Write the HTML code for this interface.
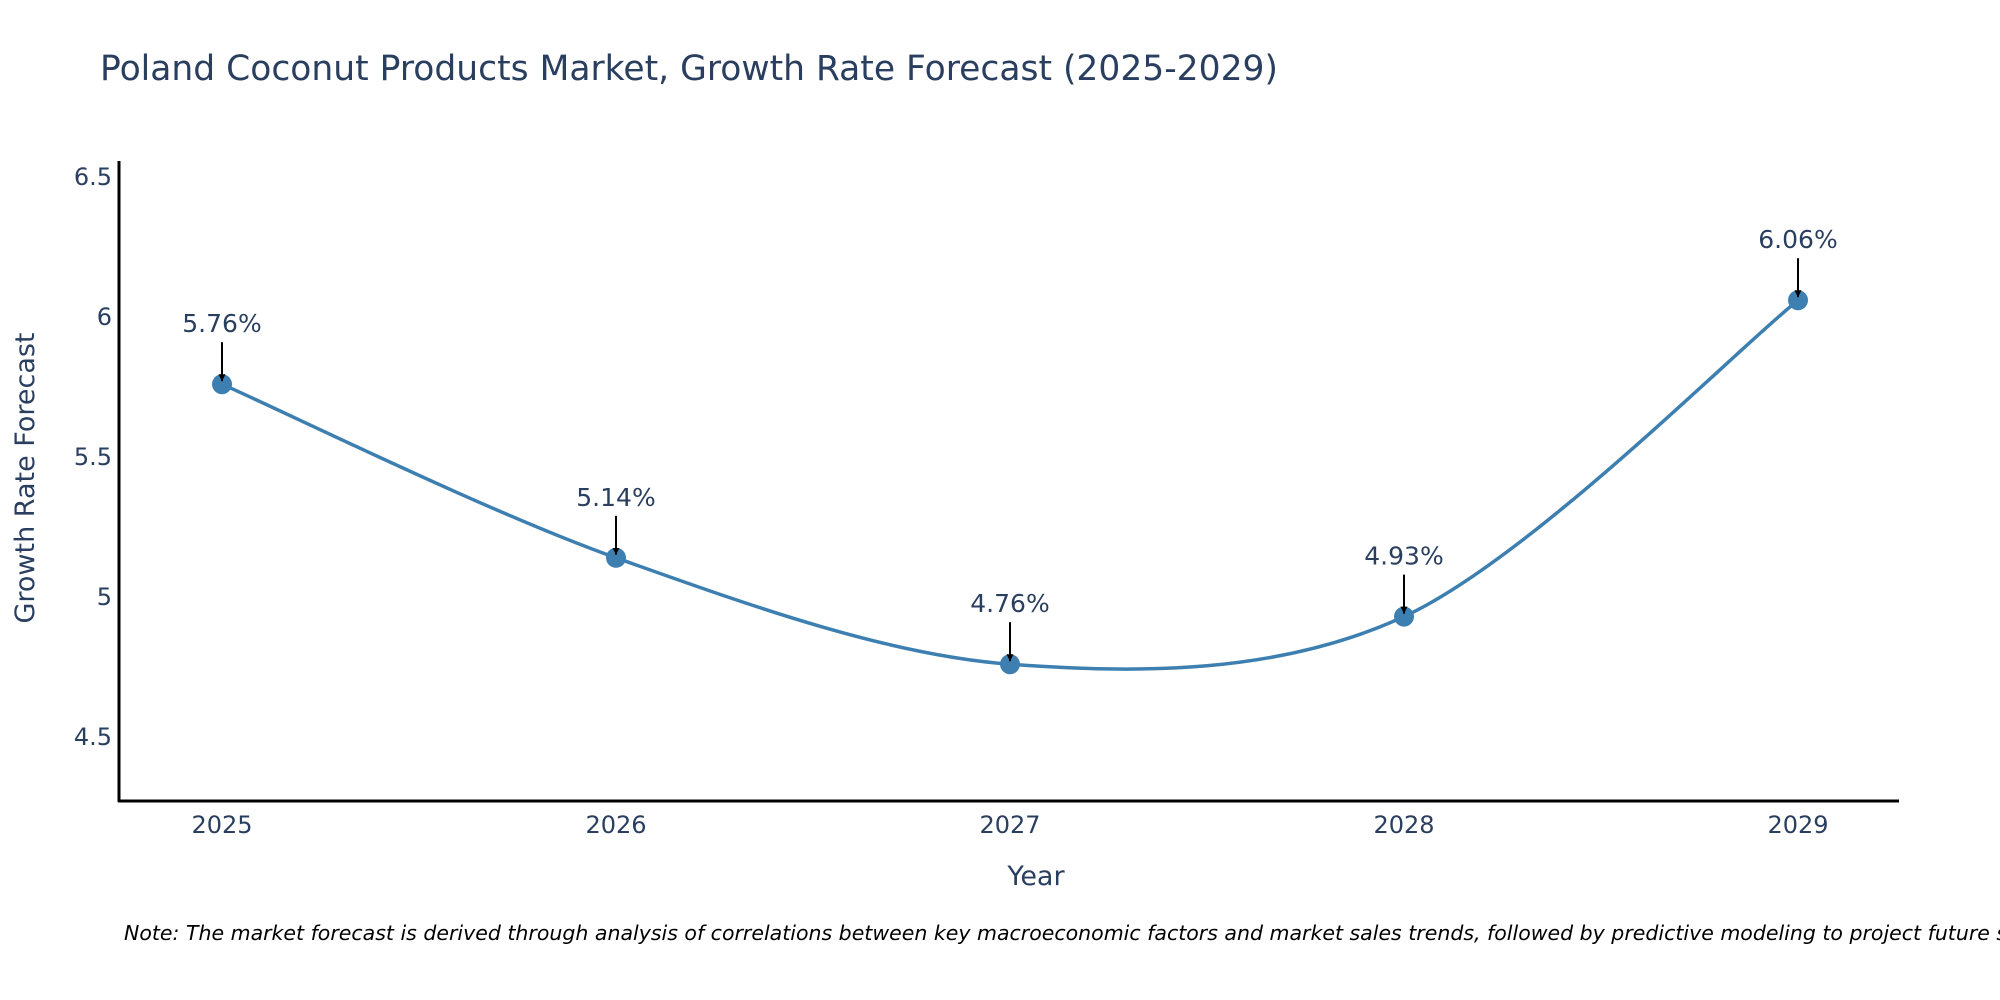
<!DOCTYPE html>
<html><head><meta charset="utf-8"><style>
body{margin:0;background:#fff;}
svg{display:block;font-family:"DejaVu Sans","Liberation Sans",sans-serif;}
</style></head><body>
<svg id="chart" width="2000" height="1000" viewBox="0 0 2000 1000">
<defs><marker id="ah" viewBox="0 0 10 10" refX="10" refY="5" markerWidth="7" markerHeight="7" markerUnits="userSpaceOnUse" orient="auto"><path d="M0,0 L10,5 L0,10 z" fill="#000"/></marker></defs>
<text x="100" y="80" font-size="34.5" fill="#2a3f5f">Poland Coconut Products Market, Growth Rate Forecast (2025-2029)</text>
<g id="yticks"></g>
<g id="xticks"></g>
<line x1="119" y1="161" x2="119" y2="802" stroke="#000" stroke-width="3"/>
<line x1="118" y1="801" x2="1899" y2="801" stroke="#000" stroke-width="3"/>
<path id="line" fill="none" stroke="#3d7fb0" stroke-width="3.5"/>
<g id="pts"></g>
<g id="ann"></g>
<text transform="translate(34,478) rotate(-90)" text-anchor="middle" font-size="27" fill="#2a3f5f">Growth Rate Forecast</text>
<text x="1036" y="885" text-anchor="middle" font-size="27" fill="#2a3f5f">Year</text>
<text x="124" y="940" font-size="20.5" font-style="italic" fill="#000">Note: The market forecast is derived through analysis of correlations between key macroeconomic factors and market sales trends, followed by predictive modeling to project future sales.</text>
</svg>
<script>
const years=[2025,2026,2027,2028,2029];
const values=[5.76,5.14,4.76,4.93,6.06];
const labels=["5.76%","5.14%","4.76%","4.93%","6.06%"];
const yTicks=[4.5,5,5.5,6,6.5];
const yTickLabels=["4.5","5","5.5","6","6.5"];
const NS="http://www.w3.org/2000/svg";
function X(yr){return 222+(yr-2025)*394;}
function Y(v){return 317-(v-6)*280;}
function mk(t,a,p){const e=document.createElementNS(NS,t);for(const k in a)e.setAttribute(k,a[k]);p.appendChild(e);return e;}
const yt=document.getElementById('yticks');
yTicks.forEach((v,i)=>{const t=mk('text',{x:112,y:Y(v)+8,'text-anchor':'end','font-size':24,fill:'#2a3f5f'},yt);


t.textContent=yTickLabels[i];});
const xt=document.getElementById('xticks');
years.forEach(yr=>{const t=mk('text',{x:X(yr),y:833,'text-anchor':'middle','font-size':24,fill:'#2a3f5f'},xt);


t.textContent=yr;});
const P=years.map((yr,i)=>[X(yr),Y(values[i])]);
let d='M'+P[0][0]+','+P[0][1];const s=0.16;
for(let i=0;i<P.length-1;i++){const p0=P[i-1]||P[i],p1=P[i],p2=P[i+1],p3=P[i+2]||P[i+1];
d+=' C'+(p1[0]+(p2[0]-p0[0])*s)+','+(p1[1]+(p2[1]-p0[1])*s)+' '+(p2[0]-(p3[0]-p1[0])*s)+','+(p2[1]-(p3[1]-p1[1])*s)+' '+p2[0]+','+p2[1];}
document.getElementById('line').setAttribute('d',d);
const pg=document.getElementById('pts'),ag=document.getElementById('ann');
P.forEach((p,i)=>{const c=mk('circle',{cx:p[0],cy:p[1],r:10,fill:'#3d7fb0'},pg);


const l=mk('line',{x1:p[0],y1:p[1]-42,x2:p[0],y2:p[1]-3,stroke:'#000','stroke-width':2,'marker-end':'url(#ah)'},ag);


const t=mk('text',{x:p[0],y:p[1]-52,'text-anchor':'middle','font-size':25,fill:'#2a3f5f'},ag);


t.textContent=labels[i];});
</script>
</body></html>
